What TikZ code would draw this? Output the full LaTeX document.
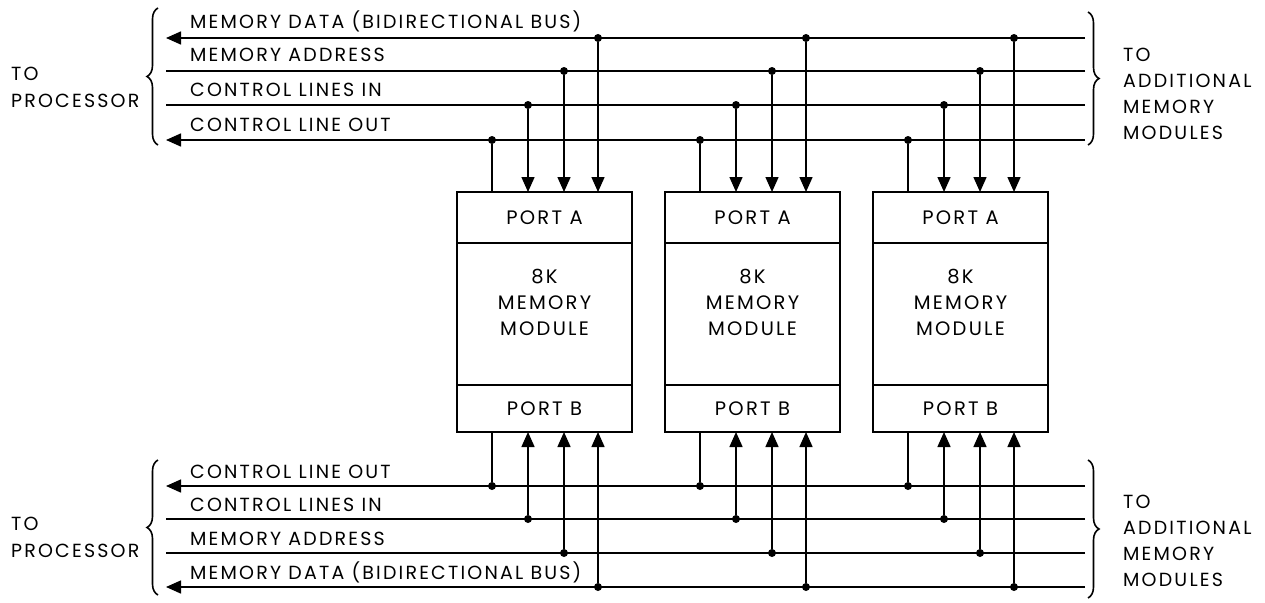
\documentclass[tikz,border=0pt]{standalone}
\usepackage{fontspec}
\setmainfont{Poppins}[LetterSpace=11.5]
\usetikzlibrary{arrows.meta,decorations.pathreplacing,calc}
\begin{document}
\begin{tikzpicture}[x=1pt,y=-1pt,
  font=\fontsize{19}{26}\selectfont,
  bus/.style={line width=1.5pt},
  arr/.style={bus,-{Triangle[length=15pt,width=13pt]}},
  box/.style={draw,line width=2.2pt,outer sep=0pt,inner sep=0pt,minimum width=175pt,font=\fontsize{19.5}{26}\selectfont},
  dot/.style={circle,fill,inner sep=0pt,minimum size=8pt},
  lbl/.style={anchor=base west,inner sep=0pt},
  brc/.style={decorate,decoration={brace,amplitude=11pt},line width=1.6pt}]
\useasboundingbox (0,0) rectangle (1265,602);

% ---- top bus ----
\coordinate (TDl) at (166,38);  \coordinate (TDr) at (1085,38);
\coordinate (TAl) at (166,71);  \coordinate (TAr) at (1085,71);
\coordinate (TIl) at (166,105); \coordinate (TIr) at (1085,105);
\coordinate (TOl) at (166,140); \coordinate (TOr) at (1085,140);
\draw[arr] (TDr) -- (TDl);
\draw[bus] (TAr) -- (TAl);
\draw[bus] (TIr) -- (TIl);
\draw[arr] (TOr) -- (TOl);
\node[lbl] (tlD) at (190,29) {MEMORY DATA (BIDIRECTIONAL BUS)};
\node[lbl] (tlA) at (190,62) {MEMORY ADDRESS};
\node[lbl] (tlI) at (190,96) {CONTROL LINES IN};
\node[lbl] (tlO) at (190,131) {CONTROL LINE OUT};

% ---- bottom bus ----
\coordinate (BOl) at (166,486); \coordinate (BOr) at (1085,486);
\coordinate (BIl) at (166,519); \coordinate (BIr) at (1085,519);
\coordinate (BAl) at (166,553); \coordinate (BAr) at (1085,553);
\coordinate (BDl) at (166,587); \coordinate (BDr) at (1085,587);
\draw[arr] (BOr) -- (BOl);
\draw[bus] (BIr) -- (BIl);
\draw[bus] (BAr) -- (BAl);
\draw[arr] (BDr) -- (BDl);
\node[lbl] (blO) at (190,478) {CONTROL LINE OUT};
\node[lbl] (blI) at (190,511) {CONTROL LINES IN};
\node[lbl] (blA) at (190,545) {MEMORY ADDRESS};
\node[lbl] (blD) at (190,579) {MEMORY DATA (BIDIRECTIONAL BUS)};

% ---- braces and side texts ----
\draw[brc] (158,145) -- (158,8);
\draw[brc] (158,595) -- (158,460);
\draw[brc] (1088,12) -- (1088,145);
\draw[brc] (1088,460) -- (1088,598);
\node[lbl] (lp1) at (11,80) {TO};
\node[lbl] (lp2) at (11,107) {PROCESSOR};
\node[lbl] (lp3) at (11,530) {TO};
\node[lbl] (lp4) at (11,557) {PROCESSOR};
\node[lbl] (rt1) at (1123,61) {TO};
\node[lbl] (rt2) at (1123,87) {ADDITIONAL};
\node[lbl] (rt3) at (1123,113) {MEMORY};
\node[lbl] (rt4) at (1123,139) {MODULES};
\node[lbl] (rb1) at (1123,508) {TO};
\node[lbl] (rb2) at (1123,534) {ADDITIONAL};
\node[lbl] (rb3) at (1123,560) {MEMORY};
\node[lbl] (rb4) at (1123,586) {MODULES};

% ---- modules ----
\foreach \i/\x in {1/457,2/665,3/873} {
  \node[box,anchor=north west,minimum height=51pt] (pa\i) at (\x,192) {PORT A};
  \node[box,anchor=north,minimum height=142pt] (core\i) at (pa\i.south) {};
  \node[box,anchor=north,minimum height=47pt] (pb\i) at (core\i.south) {PORT B};
  \node[align=center,inner sep=0pt,font=\fontsize{19.5}{26}\selectfont] (txt\i) at ($(core\i.center)+(0,-12)$) {8K\\MEMORY\\MODULE};
  % top taps
  \node[dot] (tco\i) at (\x+35,140) {};
  \node[dot] (tci\i) at (\x+71,105) {};
  \node[dot] (tad\i) at (\x+107,71) {};
  \node[dot] (tda\i) at (\x+141,38) {};
  \draw[bus] (tco\i) -- (tco\i |- pa\i.north);
  \draw[arr] (tci\i) -- (tci\i |- pa\i.north);
  \draw[arr] (tad\i) -- (tad\i |- pa\i.north);
  \draw[arr] (tda\i) -- (tda\i |- pa\i.north);
  % bottom taps
  \node[dot] (bco\i) at (\x+35,486) {};
  \node[dot] (bci\i) at (\x+71,519) {};
  \node[dot] (bad\i) at (\x+107,553) {};
  \node[dot] (bda\i) at (\x+141,587) {};
  \draw[bus] (bco\i |- pb\i.south) -- (bco\i);
  \draw[arr] (bci\i) -- (bci\i |- pb\i.south);
  \draw[arr] (bad\i) -- (bad\i |- pb\i.south);
  \draw[arr] (bda\i) -- (bda\i |- pb\i.south);
}
\end{tikzpicture}
\end{document}
